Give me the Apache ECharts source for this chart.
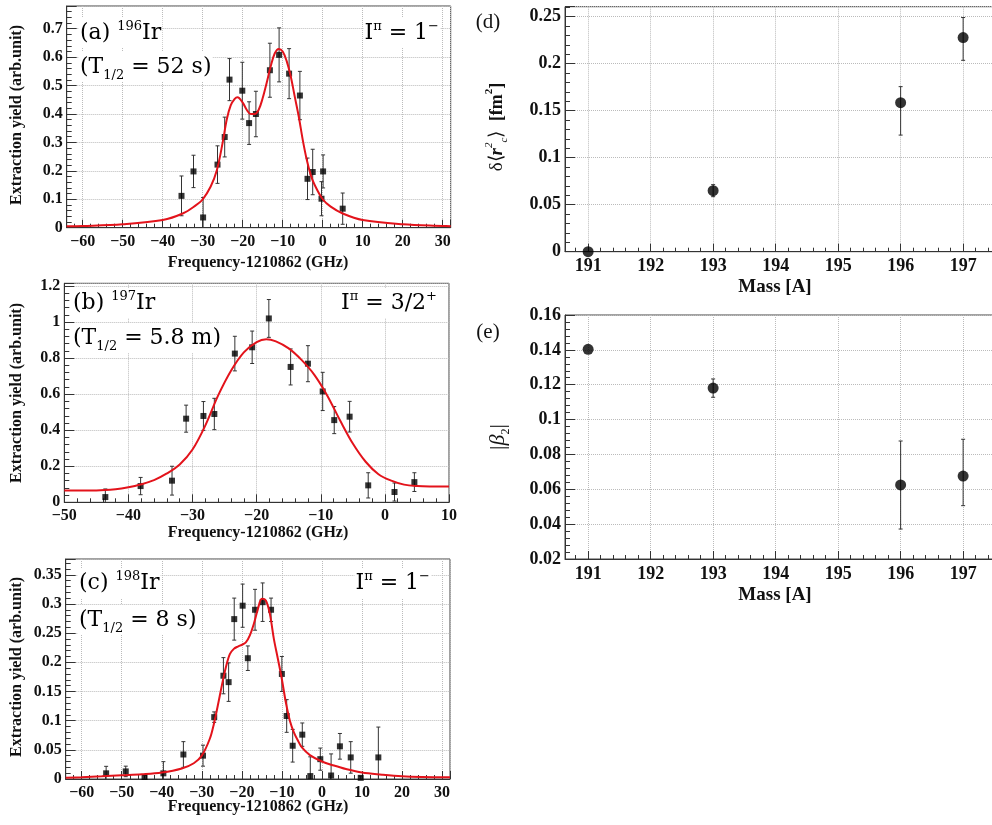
<!DOCTYPE html>
<html><head><meta charset="utf-8">
<script src="https://cdn.jsdelivr.net/npm/echarts@6/dist/echarts.min.js"></script>
<style>html,body{margin:0;padding:0;background:#fff}#c{width:992px;height:825px}</style>
</head><body><div id="c"></div>
<script>
// ---------- Panel (a) 196Ir ----------
const aX   = [-35.3,-32.3,-29.9,-26.3,-24.5,-23.3,-20.1,-18.4,-16.7,-13.2,-10.9,-8.4,-5.7,-3.8,-2.5,-0.3,0.1,5.0];
const aY   = [0.112,0.198,0.036,0.222,0.319,0.521,0.482,0.368,0.400,0.554,0.608,0.542,0.465,0.172,0.196,0.102,0.198,0.067];
const aErr = [0.070,0.057,0.070,0.066,0.070,0.074,0.100,0.075,0.080,0.095,0.095,0.088,0.085,0.073,0.080,0.060,0.058,0.055];
const aFitX = [-64,-60,-50,-40,-35,-32,-30,-28,-26.5,-25,-24,-23,-22,-21.3,-20,-19,-18,-17,-16,-15,-14,-13,-12,-11,-10,-9,-8,-7,-6,-5,-4,-3,-2,0,2,5,10,20,30,32];
const aFitY = [0.005,0.006,0.012,0.027,0.05,0.076,0.1,0.145,0.2,0.3,0.38,0.43,0.453,0.459,0.44,0.415,0.4,0.4,0.415,0.456,0.51,0.568,0.613,0.629,0.62,0.586,0.533,0.462,0.392,0.31,0.24,0.186,0.15,0.1,0.074,0.05,0.027,0.012,0.006,0.005];

// ---------- Panel (b) 197Ir ----------
const bX   = [-43.6,-38.1,-33.2,-31.0,-28.3,-26.6,-23.4,-20.7,-18.1,-14.7,-12.0,-9.7,-7.9,-5.5,-2.6,1.5,4.6];
const bY   = [0.029,0.090,0.120,0.464,0.479,0.490,0.825,0.860,1.020,0.751,0.769,0.615,0.456,0.475,0.094,0.057,0.112];
const bErr = [0.045,0.048,0.080,0.075,0.080,0.087,0.096,0.090,0.105,0.100,0.100,0.106,0.075,0.085,0.070,0.050,0.052];
const bFitX = [-50,-45,-42,-40,-38,-36,-34,-32,-30,-28,-26,-24,-22,-20,-18.5,-17,-15,-13,-11,-9,-7,-5,-3,-1,1,3,5,7,10];
const bFitY = [0.066,0.066,0.072,0.083,0.1,0.123,0.16,0.21,0.293,0.427,0.593,0.73,0.832,0.889,0.905,0.893,0.854,0.79,0.707,0.593,0.455,0.326,0.225,0.156,0.12,0.098,0.09,0.088,0.088];

// ---------- Panel (c) 198Ir ----------
const cX   = [-53.9,-49.0,-44.3,-39.6,-34.6,-29.7,-26.9,-24.6,-23.3,-21.9,-19.8,-18.5,-16.7,-14.8,-12.7,-10.0,-8.8,-7.3,-4.9,-2.9,-0.4,2.3,4.5,7.2,9.7,14.1];
const cY   = [0.0097,0.013,0.0034,0.0097,0.042,0.040,0.106,0.177,0.166,0.274,0.297,0.207,0.290,0.303,0.290,0.180,0.108,0.057,0.076,0.005,0.034,0.006,0.056,0.037,0.002,0.037];
const cErr = [0.012,0.009,0.003,0.020,0.022,0.018,0.009,0.031,0.033,0.036,0.037,0.021,0.035,0.033,0.020,0.030,0.028,0.028,0.020,0.033,0.019,0.037,0.022,0.027,0.003,0.052];
const cFitX = [-64,-60,-55,-50,-45,-40,-35,-32,-30,-28,-27,-26,-25,-24,-23,-22,-21,-20,-19,-18,-17,-16,-15,-14,-13,-12,-11,-10,-9,-8,-7,-6,-5,-3,0,3,6,10,15,20,25,32];
const cFitY = [0.002,0.003,0.0046,0.0063,0.008,0.011,0.018,0.027,0.04,0.069,0.094,0.126,0.16,0.191,0.214,0.223,0.227,0.23,0.234,0.246,0.266,0.291,0.309,0.306,0.283,0.24,0.206,0.171,0.131,0.1,0.08,0.066,0.054,0.041,0.03,0.023,0.017,0.011,0.0074,0.0046,0.0034,0.003];

// ---------- Panels (d), (e) ----------
const massX  = [191,193,196,197];
const dY     = [0,0.0649,0.1585,0.2277];
const dErrLo = [0,0.0064,0.0345,0.0242];
const dErrHi = [0,0.0064,0.0170,0.0213];
const eY     = [0.1403,0.1181,0.0625,0.0676];
const eErrLo = [0,0.0053,0.0253,0.0170];
const eErrHi = [0,0.0052,0.0252,0.0211];

const SERIF = 'Liberation Serif';
const ANN = 'DejaVu Serif';

function fmt(step) {
  return function (v) {
    const k = v / step;
    if (Math.abs(k - Math.round(k)) > 1e-6) return '';
    return String(+v.toFixed(4)).replace('-', '\u2212');
  };
}

const grids = [
  {left: 66.7, top: 6, width: 384, height: 221.7},
  {left: 64.3, top: 283.3, width: 384.7, height: 219},
  {left: 65.7, top: 559, width: 384.3, height: 220},
  {left: 565, top: 6.7, width: 440, height: 245},
  {left: 565, top: 315, width: 440, height: 244}
].map(g => Object.assign({show: true, borderColor: '#444', borderWidth: 1, backgroundColor: 'transparent',
                          containLabel: false, outerBoundsMode: 'none'}, g));

function axisCommon(fontSize, step) {
  return {
    axisLine: {show: true, onZero: false, lineStyle: {color: '#333', width: 1}},
    axisTick: {show: true, inside: true, length: 8, lineStyle: {color: '#333'}},
    minorTick: {show: true, splitNumber: 5, length: 4, lineStyle: {color: '#333'}},
    splitLine: {show: true, lineStyle: {color: '#bbb', type: 'dotted', width: 1}},
    axisLabel: {fontFamily: SERIF, fontWeight: 'bold', fontSize: fontSize, color: '#111', formatter: fmt(step)}
  };
}

const xAxes = [
  Object.assign({type: 'value', gridIndex: 0, min: -64, max: 32, splitNumber: 10}, axisCommon(16, 10)),
  Object.assign({type: 'value', gridIndex: 1, min: -50, max: 10, interval: 10}, axisCommon(16, 10)),
  Object.assign({type: 'value', gridIndex: 2, min: -64, max: 32, splitNumber: 10}, axisCommon(16, 10)),
  Object.assign({type: 'value', gridIndex: 3, min: 190.63, max: 197.67, splitNumber: 7}, axisCommon(18, 1)),
  Object.assign({type: 'value', gridIndex: 4, min: 190.63, max: 197.67, splitNumber: 7}, axisCommon(18, 1))
];
xAxes.forEach(a => { a.axisLabel.margin = 6; });
const yAxes = [
  Object.assign({type: 'value', gridIndex: 0, min: 0, max: 0.78, interval: 0.1}, axisCommon(16, 0.1)),
  Object.assign({type: 'value', gridIndex: 1, min: 0, max: 1.215, interval: 0.2}, axisCommon(16, 0.2)),
  Object.assign({type: 'value', gridIndex: 2, min: 0, max: 0.377, interval: 0.05}, axisCommon(16, 0.05)),
  Object.assign({type: 'value', gridIndex: 3, min: 0, max: 0.2605, interval: 0.05}, axisCommon(18, 0.05)),
  Object.assign({type: 'value', gridIndex: 4, min: 0.02, max: 0.16, interval: 0.02}, axisCommon(18, 0.02))
];
yAxes.forEach(a => { a.axisLabel.margin = 4; a.axisTick.length = 10; a.minorTick.length = 5; });

function errRender(params, api) {
  const x = api.value(0), lo = api.value(1), hi = api.value(2);
  const cs = params.coordSys;
  const p1 = api.coord([x, hi]);
  const p2 = api.coord([x, lo]);
  const top = Math.max(p1[1], cs.y), bot = Math.min(p2[1], cs.y + cs.height);
  const st = {stroke: '#333', lineWidth: 1};
  const ch = [{type: 'line', shape: {x1: p1[0], y1: top, x2: p1[0], y2: bot}, style: st}];
  const cw = 2;
  if (p1[1] >= cs.y) ch.push({type: 'line', shape: {x1: p1[0] - cw, y1: p1[1], x2: p1[0] + cw, y2: p1[1]}, style: st});
  if (p2[1] <= cs.y + cs.height - 0.5) ch.push({type: 'line', shape: {x1: p2[0] - cw, y1: p2[1], x2: p2[0] + cw, y2: p2[1]}, style: st});
  return {type: 'group', children: ch};
}

function panelSeries(idx, xs, ys, errLo, errHi, fitX, fitY, sym, size) {
  const out = [];
  const errData = xs.map((x, i) => [x, ys[i] - errLo[i], ys[i] + errHi[i]]).filter(d => d[2] - d[1] > 1e-9);
  out.push({type: 'custom', xAxisIndex: idx, yAxisIndex: idx, renderItem: errRender, data: errData,
            encode: {x: 0, y: [1, 2]}, silent: true, z: 3});
  out.push({type: 'scatter', xAxisIndex: idx, yAxisIndex: idx, symbol: sym, symbolSize: size,
            itemStyle: {color: '#000'}, data: xs.map((x, i) => [x, ys[i]]), z: 4, clip: false});
  if (fitX) {
    out.push({type: 'line', xAxisIndex: idx, yAxisIndex: idx, smooth: 0.35, showSymbol: false, symbol: 'none',
              lineStyle: {color: '#e3131b', width: 2}, data: fitX.map((x, i) => [x, fitY[i]]), z: 5});
  }
  return out;
}

const series = [].concat(
  panelSeries(0, aX, aY, aErr, aErr, aFitX, aFitY, 'rect', 6),
  panelSeries(1, bX, bY, bErr, bErr, bFitX, bFitY, 'rect', 6),
  panelSeries(2, cX, cY, cErr, cErr, cFitX, cFitY, 'rect', 6),
  panelSeries(3, massX, dY, dErrLo, dErrHi, null, null, 'circle', 11),
  panelSeries(4, massX, eY, eErrLo, eErrHi, null, null, 'circle', 11)
);

const annRich = {
  n: {fontFamily: ANN, fontSize: 22, fill: '#000', lineHeight: 30},
  sup: {fontFamily: ANN, fontSize: 13, fill: '#000', verticalAlign: 'top', lineHeight: 30, padding: [2, 0, 0, 0]},
  sub: {fontFamily: ANN, fontSize: 13, fill: '#000', verticalAlign: 'bottom', lineHeight: 30, padding: [0, 0, 0, 0]}
};
function ann(text, x, y, align) {
  return {type: 'text', x: x, y: y, z: 50,
          style: {text: text, rich: annRich, align: align || 'left', verticalAlign: 'middle',
                  backgroundColor: '#fff', padding: [0, 1]}};
}
function plainText(text, x, y, font, rot) {
  return {type: 'text', x: x, y: y, rotation: rot || 0, z: 50,
          style: {text: text, font: font, fill: '#111', align: 'center', verticalAlign: 'middle'}};
}

const titleFont = 'bold 16px "Liberation Serif"';
const yTitleFont = 'bold 16px "Liberation Serif"';
const graphics = [
  ann('{n|(a) }{sup|196}{n|Ir}', 79, 33),
  ann('{n|(T}{sub|1/2}{n| = 52 s)}', 79, 67),
  ann('{n|I}{sup|\u03c0}{n| = 1}{sup|\u2212}', 440, 33, 'right'),
  ann('{n|(b) }{sup|197}{n|Ir}', 72, 303),
  ann('{n|(T}{sub|1/2}{n| = 5.8 m)}', 72, 338),
  ann('{n|I}{sup|\u03c0}{n| = 3/2}{sup|+}', 438, 303, 'right'),
  ann('{n|(c) }{sup|198}{n|Ir}', 78, 583),
  ann('{n|(T}{sub|1/2}{n| = 8 s)}', 78, 620),
  ann('{n|I}{sup|\u03c0}{n| = 1}{sup|\u2212}', 431, 583, 'right'),
  plainText('Frequency-1210862 (GHz)', 258, 263, titleFont),
  plainText('Frequency-1210862 (GHz)', 258, 533, titleFont),
  plainText('Frequency-1210862 (GHz)', 258, 807, titleFont),
  plainText('Extraction yield (arb.unit)', 17, 115, yTitleFont, Math.PI / 2),
  plainText('Extraction yield (arb.unit)', 17, 393, yTitleFont, Math.PI / 2),
  plainText('Extraction yield (arb.unit)', 17, 667, yTitleFont, Math.PI / 2),
  plainText('(d)', 488, 22, '21px "Liberation Serif"'),
  plainText('(e)', 488, 332, '21px "Liberation Serif"'),
  plainText('Mass [A]', 775, 287, 'bold 19px "Liberation Serif"'),
  plainText('Mass [A]', 775, 595, 'bold 19px "Liberation Serif"'),
  {type: 'text', x: 497, y: 127, rotation: Math.PI / 2, z: 50,
   style: {text: '{n|\u03b4\u27e8}{i|r}{sup|2}{sub|c}{n|\u27e9  }{b|[fm}{bsup|2}{b|]}', align: 'center', verticalAlign: 'middle',
     rich: {
       n: {fontFamily: SERIF, fontSize: 19, fill: '#111', lineHeight: 26},
       i: {fontFamily: SERIF, fontStyle: 'italic', fontWeight: 'bold', fontSize: 19, fill: '#111', lineHeight: 26},
       sup: {fontFamily: SERIF, fontStyle: 'italic', fontSize: 11, fill: '#111', verticalAlign: 'top', lineHeight: 26},
       sub: {fontFamily: SERIF, fontStyle: 'italic', fontSize: 11, fill: '#111', verticalAlign: 'bottom', lineHeight: 26},
       b: {fontFamily: SERIF, fontWeight: 'bold', fontSize: 18, fill: '#111', lineHeight: 26},
       bsup: {fontFamily: SERIF, fontWeight: 'bold', fontSize: 11, fill: '#111', verticalAlign: 'top', lineHeight: 26}
     }}},
  {type: 'text', x: 498, y: 437, rotation: Math.PI / 2, z: 50,
   style: {text: '{n||}{i|\u03b2}{sub|2}{n||}', align: 'center', verticalAlign: 'middle',
     rich: {
       n: {fontFamily: SERIF, fontSize: 22, fill: '#111', lineHeight: 28},
       i: {fontFamily: SERIF, fontStyle: 'italic', fontSize: 22, fill: '#111', lineHeight: 28},
       sub: {fontFamily: SERIF, fontSize: 12, fill: '#111', verticalAlign: 'bottom', lineHeight: 28}
     }}}
];

const chart = echarts.init(document.getElementById('c'), null, {renderer: 'canvas'});
chart.setOption({
  animation: false,
  backgroundColor: '#fff',
  grid: grids,
  xAxis: xAxes,
  yAxis: yAxes,
  series: series,
  graphic: graphics
});
</script>
</body></html>
